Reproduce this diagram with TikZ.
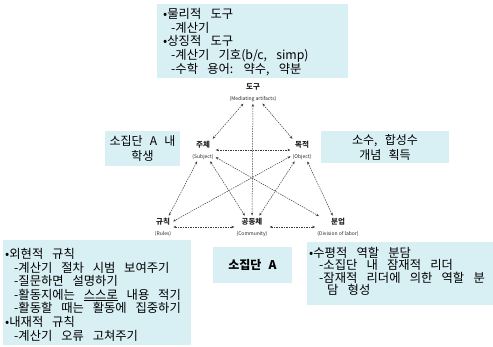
\documentclass[tikz,border=0pt]{standalone}
\usepackage{fontspec}
\setmainfont{Noto Sans CJK KR}
\usetikzlibrary{arrows.meta}
\definecolor{boxc}{RGB}{216,239,244}
\definecolor{linec}{RGB}{60,60,60}
\newcommand\myTopFont{\fontsize{12.3}{13.7}\selectfont\spaceskip 0.75em\relax}
\newcommand\myMidFont{\fontsize{12}{15}\selectfont\spaceskip 0.6em\relax}
\newcommand\myRulesFont{\fontsize{12.3}{13.6}\selectfont\spaceskip 0.72em\relax}
\newcommand\myDivFont{\fontsize{12.3}{12.4}\selectfont\spaceskip 0.75em\relax}
\begin{document}
\begin{tikzpicture}[x=1pt,y=-1pt,
  boxfill/.style={fill=boxc,draw=none},
  boxtxt/.style={anchor=north west,inner sep=0pt,align=left},
  midtxt/.style={inner sep=0pt,align=center,font=\myMidFont},
  tri/.style={inner sep=1pt,align=center,text=black!85},
  conn/.style={draw=linec,line width=0.5pt,dash pattern=on 1.5pt off 1pt,{Stealth[length=3pt,width=2.4pt]}-{Stealth[length=3pt,width=2.4pt]},shorten >=1pt,shorten <=1pt}
]
\useasboundingbox[fill=white] (0,0) rectangle (493,347);

% boxes
\fill[boxfill] (157,4) rectangle (348,78);
\node[boxtxt,font=\myTopFont] (toptxt) at (163,8)
 {•물리적 도구\\ \hspace*{8pt}-계산기\\ •상징적 도구\\ \hspace*{8pt}-계산기 기호(b/c, simp)\\ \hspace*{8pt}-수학 용어: 약수, 약분};

\fill[boxfill] (105,131) rectangle (180,166);
\node[midtxt] (subjtxt) at (142.5,148.5) {소집단 A 내\\학생};

\fill[boxfill] (321,131) rectangle (449,163);
\node[midtxt] (objtxt) at (385,147) {소수, 합성수\\개념 획득};

\fill[boxfill] (3,240) rectangle (191,345);
\node[boxtxt,font=\myRulesFont] (rulestxt) at (5,248)
 {•외현적 규칙\\ \hspace*{9pt}-계산기 절차 시범 보여주기\\ \hspace*{9pt}-질문하면 설명하기\\ \hspace*{9pt}-활동지에는 \underline{스스로} 내용 적기\\ \hspace*{9pt}-활동할 때는 활동에 집중하기\\ •내재적 규칙\\ \hspace*{9pt}-계산기 오류 고쳐주기};

\fill[boxfill] (213,247) rectangle (292,283);
\node[midtxt,font=\myMidFont\bfseries] (grouptxt) at (252.5,265) {소집단 A};

\fill[boxfill] (307,242) rectangle (493,305);
\node[boxtxt,font=\myDivFont] (divtxt) at (309,247)
 {•수평적 역할 분담\\ \hspace*{10pt}-소집단 내 잠재적 리더\\ \hspace*{10pt}-잠재적 리더에 의한 역할 분\\ \hspace*{18pt}담 형성};

% triangle nodes
\node[tri] (tool) at (253,92.5) {{\fontsize{7.5}{8}\selectfont\bfseries 도구}\\[-1pt]{\fontsize{5}{5.5}\selectfont (Mediating artifacts)}};
\node[tri] (subj) at (203,150) {{\fontsize{7.5}{8}\selectfont\bfseries 주체}\\[-1pt]{\fontsize{5}{5.5}\selectfont (Subject)}};
\node[tri] (obj) at (302,150) {{\fontsize{7.5}{8}\selectfont\bfseries 목적}\\[-1pt]{\fontsize{5}{5.5}\selectfont (Object)}};
\node[tri] (rules) at (163,227) {{\fontsize{7.5}{8}\selectfont\bfseries 규칙}\\[-1pt]{\fontsize{5}{5.5}\selectfont (Rules)}};
\node[tri] (comm) at (252,227) {{\fontsize{7.5}{8}\selectfont\bfseries 공동체}\\[-1pt]{\fontsize{5}{5.5}\selectfont (Community)}};
\node[tri] (div) at (338,227) {{\fontsize{7.5}{8}\selectfont\bfseries 분업}\\[-1pt]{\fontsize{5}{5.5}\selectfont (Division of labor)}};

% connectors
\draw[conn] (tool) -- (subj);
\draw[conn] (tool) -- (obj);
\draw[conn] (tool) -- (comm);
\draw[conn] (subj) -- (obj);
\draw[conn] (subj) -- (rules);
\draw[conn] (subj) -- (comm);
\draw[conn] (subj) -- (div);
\draw[conn] (obj) -- (comm);
\draw[conn] (obj) -- (div);
\draw[conn] (obj) -- (rules);
\draw[conn] (rules) -- (comm);
\draw[conn] (comm) -- (div);
\end{tikzpicture}
\end{document}
